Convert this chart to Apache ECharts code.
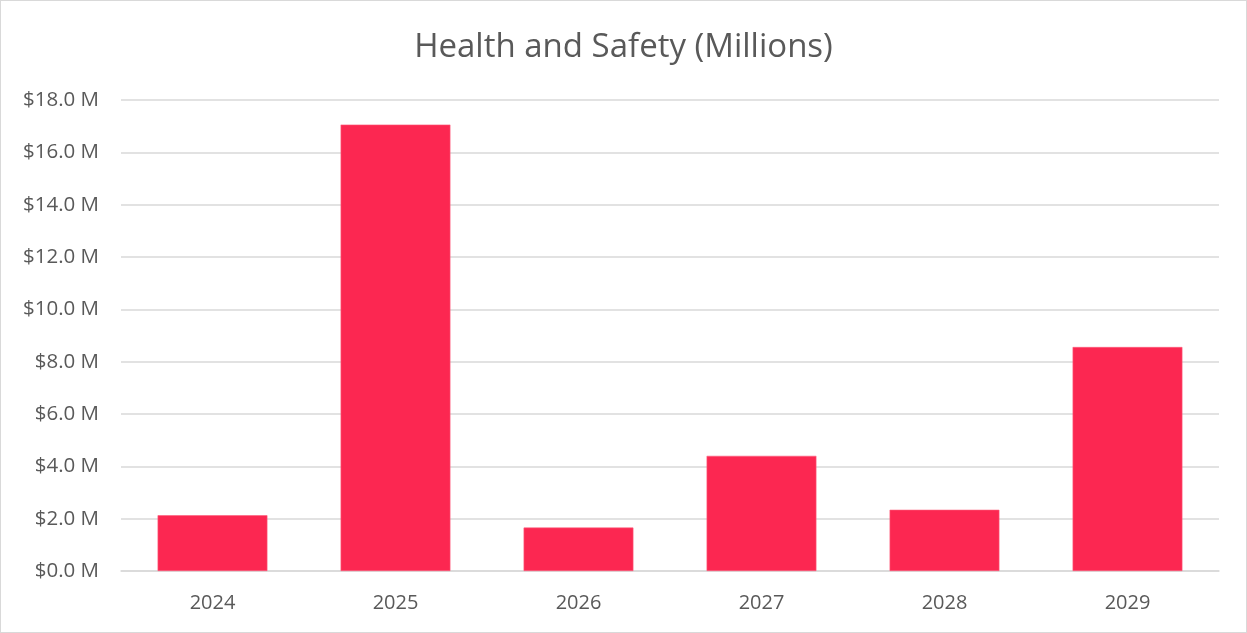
<!DOCTYPE html>
<html>
<head>
<meta charset="utf-8">
<title>Health and Safety (Millions)</title>
<script src="https://cdn.jsdelivr.net/npm/echarts@6/dist/echarts.min.js"></script>
<style>
  html, body { margin: 0; padding: 0; background: #fff; }
  #chart { width: 1247px; height: 633px; box-sizing: border-box; border: 1px solid #d9d9d9; }
</style>
</head>
<body>
<div id="chart"></div>
<script>
// Fiscal years shown on the category axis
const years = ['2024', '2025', '2026', '2027', '2028', '2029'];
// Health and safety spending per year, in millions of dollars
const spending = [2.13, 17.06, 1.66, 4.40, 2.34, 8.56];
// Value axis range and step (millions)
const axisMin = 0;
const axisMax = 18;
const axisStep = 2;

const textColor = '#595959';
const gridColor = '#d9d9d9';
const fontFamily = '"Open Sans", "Noto Sans", sans-serif';

const chart = echarts.init(document.getElementById('chart'));
chart.setOption({
  animation: false,
  title: {
    text: 'Health and Safety (Millions)',
    left: 'center',
    top: 25,
    textStyle: { color: textColor, fontSize: 33, fontWeight: 'normal', fontFamily: fontFamily }
  },
  grid: { left: 120, right: 27, top: 99, bottom: 61, containLabel: false },
  xAxis: {
    type: 'category',
    data: years,
    axisLine: { show: true, lineStyle: { color: gridColor, width: 1.5 } },
    axisTick: { show: false },
    axisLabel: { color: textColor, fontSize: 20, fontFamily: fontFamily, margin: 22 }
  },
  yAxis: {
    type: 'value',
    min: axisMin,
    max: axisMax,
    interval: axisStep,
    axisLine: { show: false },
    axisTick: { show: false },
    splitLine: { lineStyle: { color: gridColor, width: 1.5 } },
    axisLabel: {
      color: textColor,
      fontSize: 20.5,
      fontFamily: fontFamily,
      margin: 22,
      formatter: v => '$' + v.toFixed(1) + ' M'
    }
  },
  series: [{
    type: 'bar',
    data: spending,
    barCategoryGap: '40%',
    itemStyle: { color: '#fc2751', borderColor: '#fd5c7b', borderWidth: 0.6 }
  }]
});
</script>
</body>
</html>
